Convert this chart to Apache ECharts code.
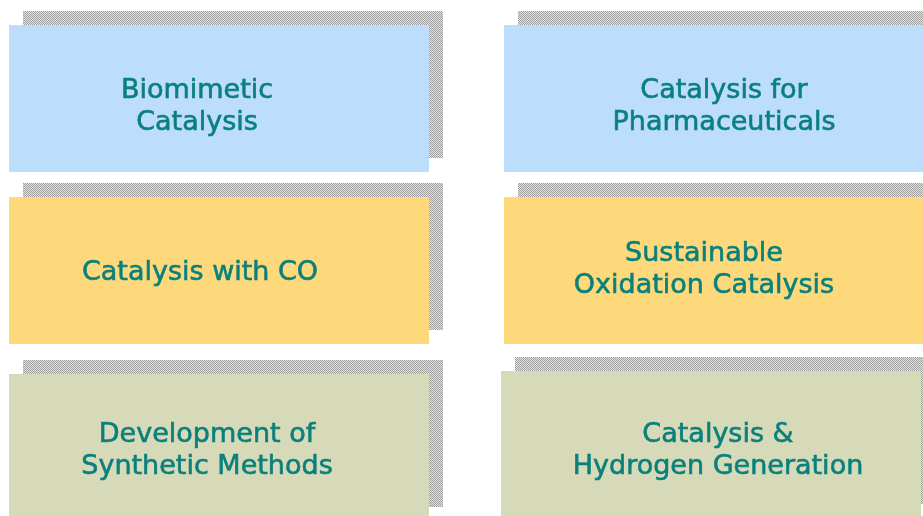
<!DOCTYPE html>
<html>
<head>
<meta charset="utf-8">
<script src="https://cdn.jsdelivr.net/npm/echarts@6/dist/echarts.min.js"></script>
<style>
  html, body { margin: 0; padding: 0; background: #fff; }
  #chart { width: 923px; height: 516px; }
</style>
</head>
<body>
<div id="chart"></div>
<script>
// --- DATA ---
const topics = [
    'Biomimetic\nCatalysis',
    'Catalysis for\nPharmaceuticals',
    'Catalysis with CO',
    'Sustainable\nOxidation Catalysis',
    'Development of\nSynthetic Methods',
    'Catalysis &\nHydrogen Generation'
];
const columns = [0, 1, 0, 1, 0, 1];
const rows = [0, 0, 1, 1, 2, 2];

// --- LAYOUT (axis units = pixels) ---
const COL_X = [9, 504];
const ROW_Y = [25, 197, 374];
const BOX_W = 420, BOX_H = 147;
const SHADOW_DX = 14, SHADOW_DY = -14;
// small per-box nudges seen in the picture: [dx, dy, textDx, textDy]
const NUDGE = [
    [0, 0, -22, 8], [0, 0, 10, 8],
    [0, 0, -19, 2], [0, 0, -10, -1],
    [0, 0, -12, 3], [-3, -3, 7, 6]
];
const ROW_FILL = ['#bcddfb', '#fed97c', '#d7dab8'];

// checker pattern for the shadows
const pat = document.createElement('canvas');
pat.width = 2; pat.height = 2;
const pctx = pat.getContext('2d');
pctx.fillStyle = '#e2e2e2'; pctx.fillRect(0, 0, 2, 2);
pctx.fillStyle = '#a0a0a0'; pctx.fillRect(0, 0, 1, 1); pctx.fillRect(1, 1, 1, 1);

const chart = echarts.init(document.getElementById('chart'));

const seriesData = topics.map((t, i) => [columns[i], rows[i], i]);

chart.setOption({
    animation: false,
    grid: { left: 0, right: 0, top: 0, bottom: 0 },
    xAxis: { type: 'value', min: 0, max: 923, show: false },
    yAxis: { type: 'value', min: 0, max: 516, inverse: true, show: false },
    series: [{
        type: 'custom',
        clip: false,
        data: seriesData,
        renderItem: function (params, api) {
            const c = api.value(0), r = api.value(1), i = api.value(2);
            const n = NUDGE[i];
            const x = COL_X[c] + n[0], y = ROW_Y[r] + n[1];
            const p0 = api.coord([x, y]);
            const p1 = api.coord([x + BOX_W, y + BOX_H]);
            const s0 = api.coord([x + SHADOW_DX, y + SHADOW_DY]);
            const tc = api.coord([x + BOX_W / 2 + n[2], y + BOX_H / 2 + n[3]]);
            const w = p1[0] - p0[0], h = p1[1] - p0[1];
            return {
                type: 'group',
                children: [
                    { type: 'rect', shape: { x: s0[0], y: s0[1], width: w, height: h },
                      style: { fill: { image: pat, repeat: 'repeat' } } },
                    { type: 'rect', shape: { x: p0[0], y: p0[1], width: w, height: h },
                      style: { fill: ROW_FILL[r] } },
                    { type: 'text', x: tc[0], y: tc[1],
                      style: { text: topics[i], fill: '#0a807c', font: '27px "DejaVu Sans"',
                               stroke: '#0a807c', lineWidth: 0.6,
                               lineHeight: 32, align: 'center', verticalAlign: 'middle' } }
                ]
            };
        }
    }]
});
</script>
</body>
</html>
